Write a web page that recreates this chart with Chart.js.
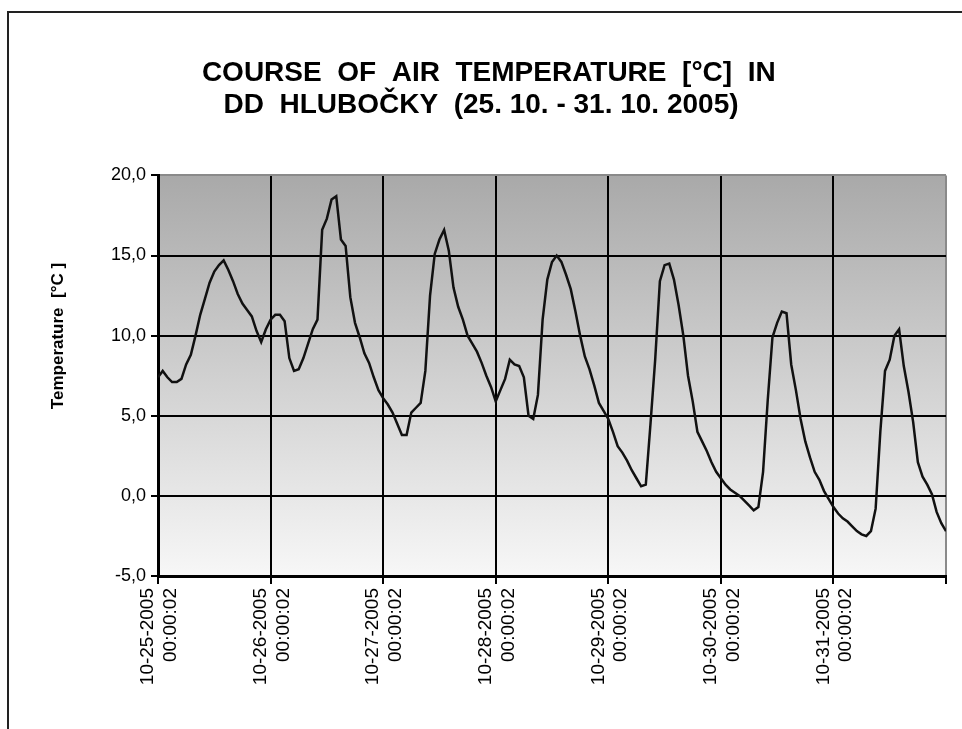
<!DOCTYPE html>
<html>
<head>
<meta charset="utf-8">
<script src="https://cdn.jsdelivr.net/npm/chart.js@4"></script>
<style>
  html, body { margin: 0; padding: 0; background: #fff; overflow: hidden; }
  #frame { position: absolute; left: 7px; top: 11px; width: 2000px; height: 2000px;
           border-left: 2px solid #222; border-top: 2px solid #222; }
  #wrap { position: absolute; left: 0; top: 0; width: 962px; height: 729px; }
</style>
</head>
<body>
<div id="frame"></div>
<div id="wrap"><canvas id="tempChart" width="962" height="729"></canvas></div>
<script>
// hourly readings, 25.10. 00:00 -> 01.11. 00:00
const temperature = [
    7.4, 7.8, 7.4, 7.1, 7.1, 7.3, 8.2, 8.8, 10.0, 11.3, 12.3, 13.3,
    14.0, 14.4, 14.7, 14.1, 13.4, 12.6, 12.0, 11.6, 11.2, 10.3, 9.6, 10.4,
    11.0, 11.3, 11.3, 10.9, 8.6, 7.8, 7.9, 8.6, 9.5, 10.4, 11.0, 16.6,
    17.3, 18.5, 18.7, 16.0, 15.6, 12.4, 10.8, 9.9, 8.9, 8.3, 7.4, 6.6,
    6.1, 5.7, 5.2, 4.5, 3.8, 3.8, 5.2, 5.5, 5.8, 7.8, 12.5, 15.1,
    16.0, 16.6, 15.3, 13.0, 11.8, 11.0, 10.0, 9.5, 9.0, 8.3, 7.5, 6.8,
    5.9, 6.6, 7.3, 8.5, 8.2, 8.1, 7.4, 5.0, 4.8, 6.3, 11.0, 13.5,
    14.6, 15.0, 14.6, 13.8, 12.9, 11.5, 10.0, 8.7, 7.9, 6.9, 5.8, 5.3,
    4.8, 4.0, 3.1, 2.7, 2.2, 1.6, 1.1, 0.6, 0.7, 4.5, 8.5, 13.4,
    14.4, 14.5, 13.5, 11.9, 10.0, 7.5, 5.9, 4.0, 3.4, 2.8, 2.1, 1.5,
    1.1, 0.7, 0.4, 0.2, 0.0, -0.3, -0.6, -0.9, -0.7, 1.5, 6.0, 9.9,
    10.8, 11.5, 11.4, 8.2, 6.6, 4.8, 3.4, 2.4, 1.5, 1.0, 0.3, -0.2,
    -0.7, -1.1, -1.4, -1.6, -1.9, -2.2, -2.4, -2.5, -2.2, -0.8, 4.0, 7.8,
    8.5, 10.0, 10.4, 8.1, 6.5, 4.6, 2.1, 1.2, 0.7, 0.1, -1.0, -1.7,
    -2.2
];

const dayLabels = [
    ['10-25-2005', '00:00:02'],
    ['10-26-2005', '00:00:02'],
    ['10-27-2005', '00:00:02'],
    ['10-28-2005', '00:00:02'],
    ['10-29-2005', '00:00:02'],
    ['10-30-2005', '00:00:02'],
    ['10-31-2005', '00:00:02']
];

const yTicks = [-5, 0, 5, 10, 15, 20];
const yTitle = 'Temperature  [°C ]';

const points = temperature.map((t, i) => ({ x: i, y: t }));

const font = "'Liberation Sans', Arial, sans-serif";

const plotBackground = {
    id: 'plotBackground',
    beforeDraw(chart) {
        const { ctx, chartArea: a } = chart;
        const g = ctx.createLinearGradient(0, a.top, 0, a.bottom);
        g.addColorStop(0, '#a9a9a9');
        g.addColorStop(1, '#f7f7f7');
        ctx.save();
        ctx.fillStyle = g;
        ctx.fillRect(a.left, a.top, a.right - a.left, a.bottom - a.top);
        ctx.restore();
    }
};

// y axis title sits above the middle of the axis in the original
const yAxisTitle = {
    id: 'yAxisTitle',
    afterDraw(chart) {
        const ctx = chart.ctx;
        ctx.save();
        ctx.translate(58, 336);
        ctx.rotate(-Math.PI / 2);
        ctx.font = 'bold 17px ' + font;
        ctx.fillStyle = '#000';
        ctx.textAlign = 'center';
        ctx.textBaseline = 'middle';
        ctx.fillText(yTitle, 0, 0);
        ctx.restore();
    }
};

new Chart(document.getElementById('tempChart').getContext('2d'), {
    type: 'line',
    data: {
        datasets: [{
            data: points,
            borderColor: '#111',
            borderWidth: 2.5,
            pointRadius: 0,
            tension: 0,
            fill: false
        }]
    },
    options: {
        responsive: false,
        animation: false,
        layout: { padding: { left: 16, right: 16, top: 0, bottom: 0 } },
        plugins: {
            legend: { display: false },
            tooltip: { enabled: false },
            title: {
                display: true,
                text: ['  COURSE  OF  AIR  TEMPERATURE  [°C]  IN', 'DD  HLUBOČKY  (25. 10. - 31. 10. 2005)'],
                color: '#000',
                font: { family: font, size: 28, weight: 'bold', lineHeight: 1.15 },
                padding: { top: 57, bottom: 54 }
            }
        },
        scales: {
            x: {
                type: 'linear',
                min: 0,
                max: 168,
                afterFit(scale) {
                    scale.height = 153;
                    scale.paddingLeft = 0;
                    scale.paddingRight = 0;
                },
                afterBuildTicks(scale) {
                    scale.ticks = [0, 24, 48, 72, 96, 120, 144, 168].map(v => ({ value: v }));
                },
                ticks: {
                    color: '#000',
                    font: { family: font, size: 19 },
                    minRotation: 90,
                    maxRotation: 90,
                    autoSkip: false,
                    padding: 4,
                    labelOffset: -10,
                    callback: (v) => dayLabels[v / 24] || ''
                },
                grid: {
                    color: (c) => c.tick && c.tick.value === 168 ? '#8a8a8a' : '#000',
                    lineWidth: 2,
                    tickLength: 8,
                    tickColor: '#000',
                    tickWidth: 2
                },
                border: { color: '#000', width: 3 }
            },
            y: {
                min: -5,
                max: 20,
                afterFit(scale) { scale.width = 142; },
                afterBuildTicks(scale) {
                    scale.ticks = yTicks.map(v => ({ value: v }));
                },
                ticks: {
                    color: '#000',
                    font: { family: font, size: 18 },
                    padding: 5,
                    callback: (v) => v.toFixed(1).replace('.', ',')
                },
                grid: {
                    color: (c) => c.tick && c.tick.value === 20 ? '#8a8a8a' : '#000',
                    lineWidth: 2,
                    tickLength: 7,
                    tickColor: '#000',
                    tickWidth: 2
                },
                border: { color: '#000', width: 3 }
            }
        }
    },
    plugins: [plotBackground, yAxisTitle]
});
</script>
</body>
</html>
